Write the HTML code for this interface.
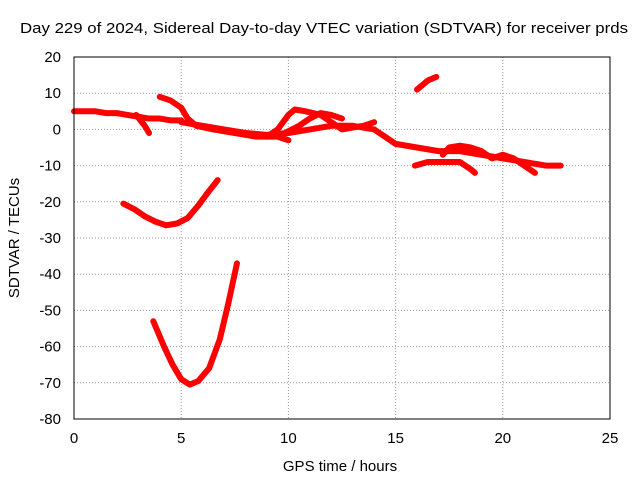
<!DOCTYPE html>
<html><head><meta charset="utf-8"><style>
body{margin:0;background:#fff;}
svg{display:block;font-family:"Liberation Sans",sans-serif;}
</style></head><body>
<svg id="chart" width="640" height="480">
<rect x="0" y="0" width="640" height="480" fill="#fff"/>
<text x="20" y="33" font-size="15" textLength="608" lengthAdjust="spacingAndGlyphs">Day 229 of 2024, Sidereal Day-to-day VTEC variation (SDTVAR) for receiver prds</text>
<text x="340" y="471" font-size="15" text-anchor="middle">GPS time / hours</text>
<text transform="translate(19,238) rotate(-90)" font-size="15" text-anchor="middle">SDTVAR / TECUs</text>
<g id="grid"></g><g id="ticks"></g><g id="series"></g>
<rect x="74" y="57" width="536" height="362" fill="none" stroke="#000" stroke-width="1"/>
</svg>
<script>
const xTicks=[0,5,10,15,20,25];
const yTicks=[20,10,0,-10,-20,-30,-40,-50,-60,-70,-80];
const s1=[[3.7,-53],[4.2,-60],[4.6,-65],[5,-69],[5.4,-70.5],[5.8,-69.5],[6.3,-66],[6.8,-58],[7.2,-48],[7.6,-37]];
const s2=[[2.3,-20.5],[2.8,-22],[3.3,-24],[3.8,-25.5],[4.3,-26.5],[4.8,-26],[5.3,-24.5],[5.8,-21],[6.3,-17],[6.7,-14]];
const s3=[[0,5],[0.5,5],[1,5],[1.5,4.5],[2,4.5],[2.5,4],[3,3.5],[3.5,3],[4,3],[4.5,2.5],[5,2.5]];
const s3b=[[2.9,4],[3.3,1],[3.5,-1]];
const s4=[[4,9],[4.5,8],[5,6],[5.3,3],[5.7,1],[6.5,0],[7.5,-1],[8.5,-2],[9.5,-2],[10,-3]];
const s5=[[5,2],[6,1],[7,0],[8,-1],[9,-1.5],[10,-1],[11,0],[12,1],[13,1],[14,0],[15,-4],[16,-5],[17,-6],[18,-6],[19,-7],[20,-8],[21,-9],[22,-10],[22.7,-10]];
const s6=[[9,-2],[9.5,0],[10,4],[10.3,5.5],[10.8,5],[11.5,4],[12,2],[12.5,0],[13,0.5],[13.5,1],[14,2]];
const s7=[[9.5,-2],[10.5,1],[11,3],[11.5,4.5],[12,4],[12.5,3]];
const s8=[[16,11],[16.5,13.5],[16.9,14.5]];
const s9=[[15.9,-10],[16.5,-9],[17,-9],[17.5,-9],[18,-9],[18.5,-11],[18.7,-12]];
const s10=[[17.2,-7],[17.5,-5],[18,-4.5],[18.5,-5],[19,-6],[19.5,-8],[20,-7],[20.5,-8],[21,-10],[21.5,-12]];
const allSeries=[s1,s2,s3,s3b,s4,s5,s6,s7,s8,s9,s10];
const X=v=>74+v*(536/25), Y=v=>57+(20-v)*(362/100);
const NS="http://www.w3.org/2000/svg";
const g=document.getElementById('grid'), t=document.getElementById('ticks'), s=document.getElementById('series');
function mk(tag,attrs,parent){const e=document.createElementNS(NS,tag);for(const k in attrs)e.setAttribute(k,attrs[k]);parent.appendChild(e);return e;}
xTicks.forEach(v=>{
 const l=mk('line',{x1:X(v),x2:X(v),y1:57,y2:419,stroke:'#999','stroke-dasharray':'1,2'},g);
 
 
 const tx=mk('text',{x:X(v),y:443,'font-size':15,'text-anchor':'middle'},t);tx.textContent=v;
 
 
});
yTicks.forEach(v=>{
 const l=mk('line',{x1:74,x2:610,y1:Y(v),y2:Y(v),stroke:'#999','stroke-dasharray':'1,2'},g);
 
 
 const tx=mk('text',{x:61,y:Y(v)+5,'font-size':15,'text-anchor':'end'},t);tx.textContent=v;
 
 
});
allSeries.forEach((ser,i)=>{
 const p=mk('polyline',{points:ser.map(d=>X(d[0])+','+Y(d[1])).join(' '),fill:'none',stroke:'#f00','stroke-width':6,'stroke-linejoin':'round','stroke-linecap':'round'},s);
 
 
});
</script>
</body></html>
